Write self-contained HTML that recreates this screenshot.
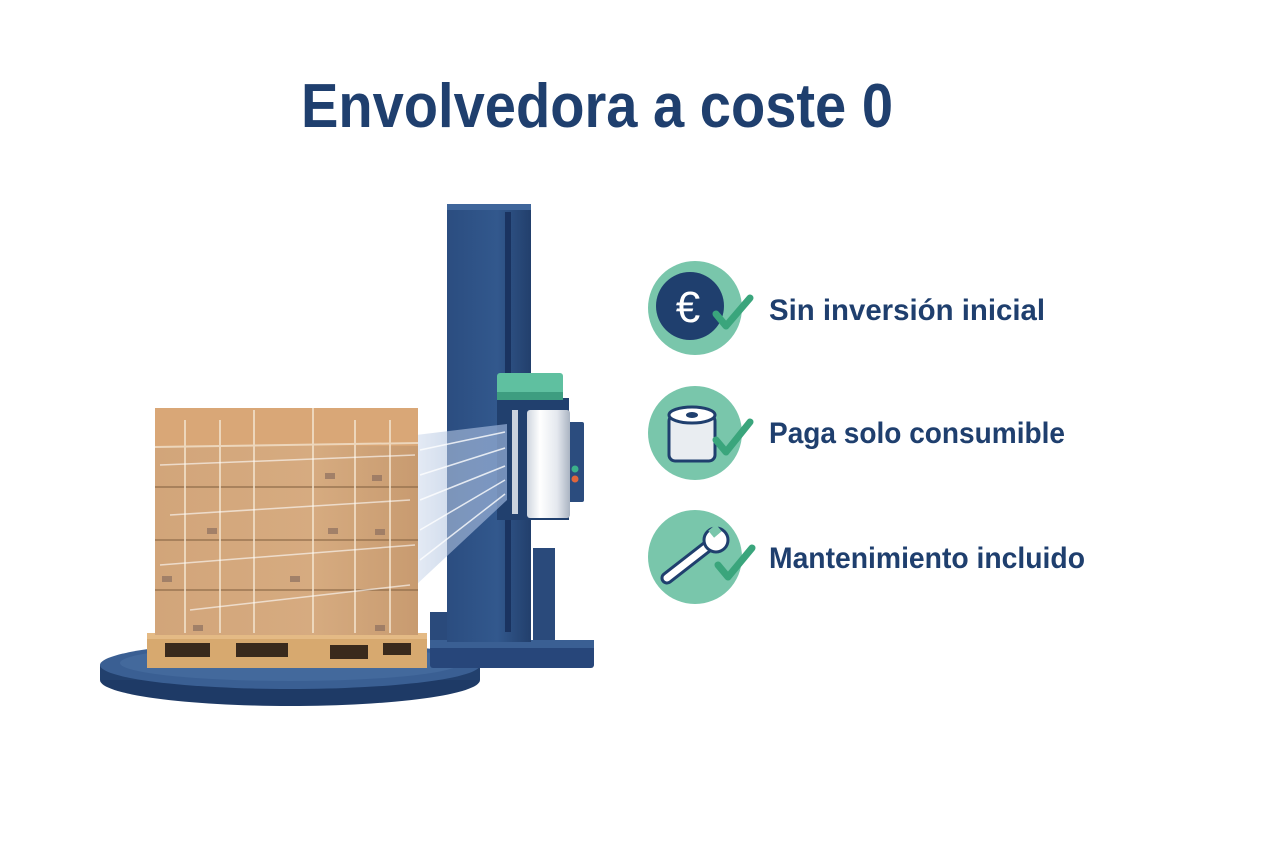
<!DOCTYPE html>
<html><head><meta charset="utf-8"><style>html,body{margin:0;padding:0;background:#fff;}svg{display:block}</style></head><body>
<svg width="1280" height="853" viewBox="0 0 1280 853" xmlns="http://www.w3.org/2000/svg">
<defs>
<linearGradient id="col" x1="0" x2="1"><stop offset="0" stop-color="#2b4d80"/><stop offset="0.6" stop-color="#32588d"/><stop offset="1" stop-color="#223f6c"/></linearGradient>
<linearGradient id="box" x1="0" x2="1"><stop offset="0" stop-color="#d2a57a"/><stop offset="0.6" stop-color="#d6ab80"/><stop offset="1" stop-color="#c89b70"/></linearGradient>
<linearGradient id="roll" x1="0" x2="1"><stop offset="0" stop-color="#cfd6df"/><stop offset="0.3" stop-color="#ffffff"/><stop offset="0.7" stop-color="#e4e8ee"/><stop offset="1" stop-color="#aab4c2"/></linearGradient>
<linearGradient id="film" x1="0" x2="1"><stop offset="0" stop-color="#c9d6ea" stop-opacity="0.5"/><stop offset="1" stop-color="#8fa9d2" stop-opacity="0.75"/></linearGradient>
</defs>
<text x="597" y="127" text-anchor="middle" font-family="Liberation Sans, sans-serif" font-weight="bold" font-size="62" fill="#1f3f6e" textLength="592" lengthAdjust="spacingAndGlyphs">Envolvedora a coste 0</text>

<!-- turntable -->
<ellipse cx="290" cy="680" rx="190" ry="26" fill="#1e3a66"/>
<rect x="100" y="665" width="380" height="15" fill="#22406d"/>
<ellipse cx="290" cy="665" rx="190" ry="24" fill="#3a5f93"/>
<ellipse cx="290" cy="663" rx="170" ry="18" fill="#4a6fa2" opacity="0.6"/>

<!-- machine base -->
<rect x="430" y="612" width="30" height="35" fill="#2a4a7b"/>
<rect x="533" y="548" width="22" height="100" fill="#2a4a7b"/>
<rect x="430" y="640" width="164" height="28" rx="3" fill="#27467a"/>
<rect x="430" y="640" width="164" height="8" fill="#3a5f93"/>
<!-- column -->
<rect x="447" y="204" width="84" height="438" fill="url(#col)"/>
<rect x="505" y="212" width="6" height="420" fill="#1a3360"/>
<rect x="447" y="204" width="84" height="6" fill="#3f669b"/>

<!-- carriage -->
<rect x="497" y="398" width="72" height="122" fill="#21406e"/>
<rect x="567" y="422" width="17" height="80" rx="2" fill="#2b4c7e"/>
<circle cx="575" cy="469" r="3.5" fill="#3bb08a"/>
<circle cx="575" cy="479" r="3.5" fill="#e0663c"/>
<rect x="497" y="373" width="66" height="27" rx="3" fill="#5fc0a0"/>
<rect x="497" y="392" width="66" height="8" fill="#3e9d80"/>
<rect x="512" y="410" width="6" height="104" fill="#c9d2de"/>
<rect x="527" y="410" width="43" height="108" rx="3" fill="url(#roll)"/>

<!-- film to roll -->
<polygon points="416,435 507,424 507,500 416,585" fill="url(#film)"/>
<g stroke="#ffffff" stroke-width="1.5" opacity="0.8">
<line x1="420" y1="450" x2="505" y2="432"/><line x1="420" y1="475" x2="505" y2="448"/><line x1="420" y1="500" x2="505" y2="466"/><line x1="420" y1="530" x2="505" y2="480"/><line x1="420" y1="560" x2="505" y2="494"/>
</g>

<!-- pallet -->
<rect x="147" y="633" width="280" height="35" fill="#d7a96f"/>
<rect x="165" y="643" width="45" height="14" fill="#3a2a1c"/>
<rect x="236" y="643" width="52" height="14" fill="#3a2a1c"/>
<rect x="330" y="645" width="38" height="14" fill="#3a2a1c"/>
<rect x="383" y="643" width="28" height="12" fill="#3a2a1c"/>
<rect x="147" y="633" width="280" height="6" fill="#e4ba85"/>

<!-- boxes -->
<rect x="155" y="408" width="263" height="227" fill="url(#box)"/>
<rect x="155" y="408" width="263" height="38" fill="#d9a777"/>
<g stroke="#8d6a48" stroke-width="2" opacity="0.6">
<line x1="155" y1="487" x2="418" y2="487"/><line x1="155" y1="540" x2="418" y2="540"/><line x1="155" y1="590" x2="418" y2="590"/>
</g>
<g stroke="#f3e2cc" stroke-width="2" opacity="0.8">
<line x1="185" y1="420" x2="185" y2="633"/><line x1="220" y1="420" x2="220" y2="633"/><line x1="254" y1="410" x2="254" y2="633"/><line x1="313" y1="408" x2="313" y2="633"/><line x1="355" y1="420" x2="355" y2="633"/><line x1="390" y1="420" x2="390" y2="633"/>
<line x1="155" y1="447" x2="418" y2="443"/>
</g>
<g stroke="#ffffff" stroke-width="1.5" opacity="0.6">
<line x1="160" y1="465" x2="415" y2="455"/><line x1="170" y1="515" x2="410" y2="500"/><line x1="160" y1="565" x2="415" y2="545"/><line x1="190" y1="610" x2="410" y2="585"/>
</g>
<g fill="#8d7060" opacity="0.7">
<rect x="325" y="473" width="10" height="6"/><rect x="372" y="475" width="10" height="6"/><rect x="207" y="528" width="10" height="6"/><rect x="328" y="528" width="10" height="6"/><rect x="375" y="529" width="10" height="6"/><rect x="162" y="576" width="10" height="6"/><rect x="290" y="576" width="10" height="6"/><rect x="193" y="625" width="10" height="6"/><rect x="375" y="625" width="10" height="6"/>
</g>

<!-- icons -->
<g>
<circle cx="695" cy="308" r="47" fill="#79c6ab"/>
<circle cx="690" cy="306" r="34" fill="#1f3f6e"/>
<text x="688" y="322" text-anchor="middle" font-family="Liberation Sans, sans-serif" font-size="44" fill="#fff">€</text>
<polyline points="716,314 726,326 750,298" fill="none" stroke="#3aa57c" stroke-width="7" stroke-linecap="round" stroke-linejoin="round"/>
</g>
<g>
<circle cx="695" cy="433" r="47" fill="#79c6ab"/>
<rect x="669" y="415" width="46" height="46" rx="6" fill="#e9edf1" stroke="#1f3f6e" stroke-width="3"/>
<ellipse cx="692" cy="415" rx="23" ry="8" fill="#fff" stroke="#1f3f6e" stroke-width="3"/>
<ellipse cx="692" cy="415" rx="6" ry="3" fill="#1f3f6e"/>
<polyline points="716,440 726,452 750,422" fill="none" stroke="#3aa57c" stroke-width="7" stroke-linecap="round" stroke-linejoin="round"/>
</g>
<g>
<circle cx="695" cy="557" r="47" fill="#79c6ab"/>
<line x1="667" y1="578" x2="712" y2="543" stroke="#1f3f6e" stroke-width="13" stroke-linecap="round"/>
<line x1="667" y1="578" x2="712" y2="543" stroke="#fff" stroke-width="7" stroke-linecap="round"/>
<circle cx="716" cy="540" r="12" fill="#fff" stroke="#1f3f6e" stroke-width="3"/>
<rect x="716" y="528" width="10" height="9" fill="#79c6ab" transform="rotate(-40 716 540)"/>
<polyline points="718,565 728,577 752,548" fill="none" stroke="#3aa57c" stroke-width="7" stroke-linecap="round" stroke-linejoin="round"/>
</g>

<g font-family="Liberation Sans, sans-serif" font-size="30" font-weight="bold" fill="#1f3f6e">
<text x="769" y="320" textLength="276" lengthAdjust="spacingAndGlyphs">Sin inversión inicial</text>
<text x="769" y="443" textLength="296" lengthAdjust="spacingAndGlyphs">Paga solo consumible</text>
<text x="769" y="568" textLength="316" lengthAdjust="spacingAndGlyphs">Mantenimiento incluido</text>
</g>
</svg>
</body></html>
